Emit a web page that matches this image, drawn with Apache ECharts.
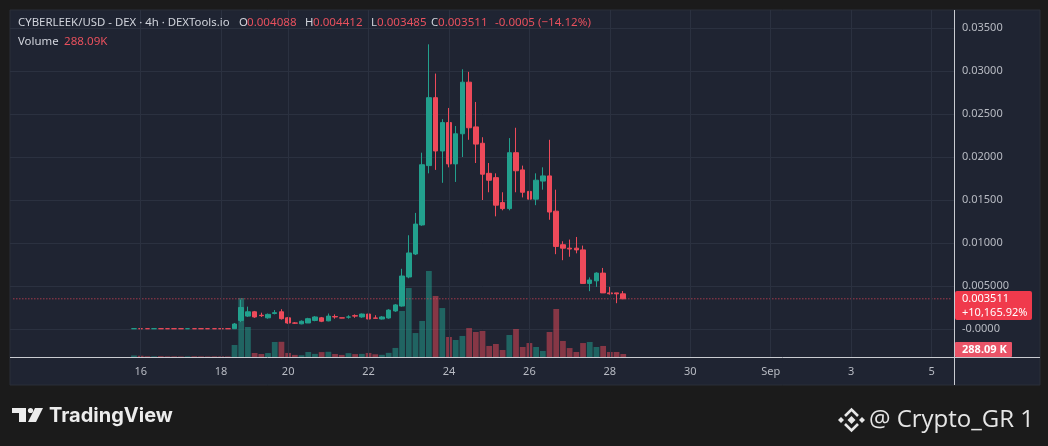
<!DOCTYPE html>
<html><head><meta charset="utf-8">
<script src="https://cdn.jsdelivr.net/npm/echarts@6/dist/echarts.min.js"></script>
<style>html,body{margin:0;padding:0;background:#1b1b1b}#c{width:1048px;height:446px}</style>
</head><body><div id="c"></div><script>
// 4h bar slots (TradingView index-based time scale; two empty slots on Aug 18 are skipped)
const categories = [
'08-12 20:00',
'08-13 00:00','08-13 04:00','08-13 08:00','08-13 12:00','08-13 16:00','08-13 20:00',
'08-14 00:00','08-14 04:00','08-14 08:00','08-14 12:00','08-14 16:00','08-14 20:00',
'08-15 00:00','08-15 04:00','08-15 08:00','08-15 12:00','08-15 16:00','08-15 20:00',
'08-16 00:00','08-16 04:00','08-16 08:00','08-16 12:00','08-16 16:00','08-16 20:00',
'08-17 00:00','08-17 04:00','08-17 08:00','08-17 12:00','08-17 16:00','08-17 20:00',
'08-18 00:00','08-18 12:00','08-18 16:00','08-18 20:00',
'08-19 00:00','08-19 04:00','08-19 08:00','08-19 12:00','08-19 16:00','08-19 20:00',
'08-20 00:00','08-20 04:00','08-20 08:00','08-20 12:00','08-20 16:00','08-20 20:00',
'08-21 00:00','08-21 04:00','08-21 08:00','08-21 12:00','08-21 16:00','08-21 20:00',
'08-22 00:00','08-22 04:00','08-22 08:00','08-22 12:00','08-22 16:00','08-22 20:00',
'08-23 00:00','08-23 04:00','08-23 08:00','08-23 12:00','08-23 16:00','08-23 20:00',
'08-24 00:00','08-24 04:00','08-24 08:00','08-24 12:00','08-24 16:00','08-24 20:00',
'08-25 00:00','08-25 04:00','08-25 08:00','08-25 12:00','08-25 16:00','08-25 20:00',
'08-26 00:00','08-26 04:00','08-26 08:00','08-26 12:00','08-26 16:00','08-26 20:00',
'08-27 00:00','08-27 04:00','08-27 08:00','08-27 12:00','08-27 16:00','08-27 20:00',
'08-28 00:00','08-28 04:00','08-28 08:00','08-28 12:00','08-28 16:00','08-28 20:00',
'08-29 00:00','08-29 04:00','08-29 08:00','08-29 12:00','08-29 16:00','08-29 20:00',
'08-30 00:00','08-30 04:00','08-30 08:00','08-30 12:00','08-30 16:00','08-30 20:00',
'08-31 00:00','08-31 04:00','08-31 08:00','08-31 12:00','08-31 16:00','08-31 20:00',
'09-01 00:00','09-01 04:00','09-01 08:00','09-01 12:00','09-01 16:00','09-01 20:00',
'09-02 00:00','09-02 04:00','09-02 08:00','09-02 12:00','09-02 16:00','09-02 20:00',
'09-03 00:00','09-03 04:00','09-03 08:00','09-03 12:00','09-03 16:00','09-03 20:00',
'09-04 00:00','09-04 04:00','09-04 08:00','09-04 12:00','09-04 16:00','09-04 20:00',
'09-05 00:00','09-05 04:00','09-05 08:00','09-05 12:00'
];
const tickLabels = {
'08-16 00:00':'16','08-18 00:00':'18','08-20 00:00':'20','08-22 00:00':'22',
'08-24 00:00':'24','08-26 00:00':'26','08-28 00:00':'28','08-30 00:00':'30',
'09-01 00:00':'Sep','09-03 00:00':'3','09-05 00:00':'5'
};
const priceTickLabels = ['-0.0000','0.005000','0.01000','0.01500','0.02000','0.02500','0.03000','0.03500'];
const firstBar = '08-15 20:00';
const opens = [
0.0000350,0.0000352,0.0000346,0.0000344,0.0000348,0.0000345,0.0000343,
0.0000341,0.0000340,0.0000344,0.0000342,0.0000341,0.0000340,0.0000339,0.0000338,
0.0000337,0.0010,0.0015,0.0020,0.0016,0.0013,0.0018,0.0020,0.0013,0.0007,
0.0006,0.0007,0.0010,0.0013,0.00095,0.00145,0.0013,0.00138,0.00155,0.0014,
0.00174,0.00128,0.00116,0.00128,0.0021,0.00267,0.00605,0.00872,0.0121,0.0190,
0.0269,0.0207,0.0240,0.0192,0.0227,0.0287,0.0235,0.0216,0.0181,0.0176,
0.0147,0.0140,0.0205,0.0185,0.0160,0.0151,0.0172,0.0178,0.0137,0.0098,
0.0094,0.0094,0.0092,0.0053,0.0056,0.0065,0.0042,0.0042,0.004088
];
const closes = [
0.0000352,0.0000346,0.0000344,0.0000348,0.0000345,0.0000343,0.0000341,
0.0000340,0.0000344,0.0000342,0.0000341,0.0000340,0.0000339,0.0000338,0.0000337,
0.00058,0.0025,0.0020,0.0014,0.00155,0.0017,0.0019,0.0012,0.0007,0.00068,
0.0009,0.0012,0.0014,0.0009,0.0015,0.0014,0.00127,0.0014,0.0015,0.00174,
0.00116,0.00125,0.0014,0.0022,0.0028,0.00616,0.00884,0.0122,0.0191,0.0269,
0.0207,0.0240,0.0192,0.0227,0.0287,0.0234,0.0215,0.0180,0.0173,0.0144,
0.0140,0.0205,0.0184,0.0159,0.0151,0.0173,0.0178,0.0136,0.0096,0.0094,
0.0093,0.0092,0.0053,0.0057,0.0065,0.0042,0.0041,0.004088,0.003511
];
const lows = [
0.0000347,0.0000343,0.0000341,0.0000341,0.0000342,0.0000340,0.0000338,
0.0000337,0.0000337,0.0000339,0.0000338,0.0000337,0.0000336,0.0000335,0.0000334,
0.00003,0.0008,0.0014,0.0013,0.0014,0.0012,0.0017,0.0011,0.0006,0.0006,
0.00055,0.0007,0.0009,0.0008,0.0009,0.0012,0.00125,0.0012,0.0013,0.0013,
0.0011,0.00122,0.0011,0.0012,0.0020,0.0026,0.0059,0.0086,0.0120,0.0181,
0.0185,0.0170,0.0188,0.0171,0.0200,0.0220,0.0193,0.0150,0.0159,0.0131,
0.0138,0.0138,0.0159,0.0153,0.0127,0.0144,0.0162,0.0127,0.0087,0.0080,
0.0084,0.0088,0.0053,0.0044,0.0049,0.0042,0.0040,0.0030,0.003485
];
const highs = [
0.0000355,0.0000355,0.0000349,0.0000351,0.0000351,0.0000348,0.0000346,
0.0000344,0.0000347,0.0000347,0.0000345,0.0000344,0.0000343,0.0000342,0.0000341,
0.0007,0.0034,0.0026,0.0021,0.0019,0.0018,0.0022,0.0023,0.0014,0.0008,
0.0010,0.0013,0.0015,0.0014,0.0018,0.0017,0.0013,0.0016,0.0017,0.0018,
0.0018,0.0016,0.0015,0.0023,0.0029,0.0070,0.0109,0.0135,0.0205,0.0331,
0.0297,0.0244,0.0257,0.0236,0.0302,0.0299,0.0264,0.0223,0.0193,0.0181,
0.0159,0.0222,0.0234,0.0190,0.0170,0.0181,0.0188,0.0220,0.0162,0.0102,
0.0104,0.0107,0.0097,0.0060,0.0066,0.0071,0.0049,0.0042,0.004412
];
// volume in thousands
const volumes = [
150,120,70,60,80,60,60,50,60,70,60,50,60,60,50,
1150,5660,2880,385,290,380,1440,1460,390,200,170,480,300,470,500,290,200,370,280,300,
390,260,210,400,870,4420,6620,2300,3460,8260,5860,4700,1920,1630,2020,2780,2400,2500,
1060,1250,670,2110,2690,960,1340,960,580,2400,4610,1540,860,480,1340,1440,960,1060,
480,480,288.09
];

const UP = '#22a08d', DOWN = '#ee4a5a';
const UPV = 'rgba(34,160,141,0.52)', DOWNV = 'rgba(238,74,90,0.5)';
const start = categories.indexOf(firstBar);
const candleData = categories.map(() => '-');
const volData = categories.map(() => '-');
opens.forEach((o, k) => {
  const i = start + k;
  candleData[i] = [o, closes[k], lows[k], highs[k]];
  volData[i] = { value: volumes[k], itemStyle: { color: closes[k] >= o ? UPV : DOWNV } };
});
const lastIdx = closes.length - 1;
const lastClose = closes[lastIdx];
const FONT = '"Noto Sans", "Open Sans", sans-serif';
const TXT = '#b8bbc3';
const GRIDC = '#2b3140';
const HF = '11.4px ' + FONT;
const VF = '11.6px ' + FONT;
const HC = '#d1d4dc', RC = '#e8505d';
const txt = (x, y, text, fill, font) => ({ type: 'text', z: 61, silent: true,
  style: { x, y, text, fill, font, textVerticalAlign: 'middle' } });

const chart = echarts.init(document.getElementById('c'), null, { renderer: 'canvas' });
chart.setOption({
  animation: false,
  backgroundColor: '#1b1b1b',
  textStyle: { fontFamily: FONT },
  grid: [
    { left: 10, right: 93, top: 10, bottom: 89 },
    { left: 10, right: 93, top: 28, bottom: 117 }
  ],
  xAxis: [
    { type: 'category', gridIndex: 0, data: categories, boundaryGap: true,
      axisLine: { show: false }, axisTick: { show: false }, splitLine: { show: false },
      axisLabel: { color: TXT, fontSize: 11, margin: 9, fontFamily: FONT,
        interval: (idx, v) => !!tickLabels[v], formatter: v => tickLabels[v] || '' } },
    { type: 'category', gridIndex: 1, data: categories, boundaryGap: true, show: false }
  ],
  yAxis: [
    { type: 'value', gridIndex: 0, min: 0, max: 33312, show: false, splitLine: { show: false } },
    { type: 'value', gridIndex: 1, position: 'right', min: 0, max: 0.035, interval: 0.005,
      axisLine: { show: false }, axisTick: { show: false },
      splitLine: { lineStyle: { color: GRIDC, width: 1 } },
      axisLabel: { color: TXT, fontSize: 11, margin: 7, fontFamily: FONT,
        formatter: v => priceTickLabels[Math.round(v / 0.005)] } }
  ],
  series: [
    { type: 'line', xAxisIndex: 0, yAxisIndex: 0, data: categories.map(() => '-'), z: 0, silent: true,
      markLine: { symbol: ['none', 'none'], silent: true, label: { show: false },
        lineStyle: { color: GRIDC, type: 'solid', width: 1 },
        data: Object.keys(tickLabels).map(c => ({ xAxis: c })) } },
    { type: 'bar', name: 'Volume', xAxisIndex: 0, yAxisIndex: 0, data: volData, barWidth: '86%', z: 2 },
    { type: 'line', name: 'Last price', xAxisIndex: 1, yAxisIndex: 1, z: 2, silent: true,
      data: categories.map(() => lastClose), symbol: 'none',
      lineStyle: { color: '#e8475a', type: [1, 2], width: 1 } },
    { type: 'candlestick', name: 'CYBERLEEK/USD', xAxisIndex: 1, yAxisIndex: 1, data: candleData,
      barWidth: 5, z: 3, clip: false,
      itemStyle: { color: UP, color0: DOWN, borderColor: UP, borderColor0: DOWN, borderWidth: 1 } }
  ],
  graphic: [
    { type: 'rect', z: -10, silent: true, shape: { x: 10, y: 10, width: 1030, height: 375 },
      style: { fill: '#1f2432', stroke: '#2a2e39', lineWidth: 1 } },
    { type: 'line', z: 50, silent: true, shape: { x1: 10, y1: 357.5, x2: 1040, y2: 357.5 },
      style: { stroke: '#c9cbd1', lineWidth: 1 } },
    { type: 'line', z: 50, silent: true, shape: { x1: 954.5, y1: 10, x2: 954.5, y2: 385 },
      style: { stroke: '#c9cbd1', lineWidth: 1 } },
    { type: 'rect', z: 60, silent: true, shape: { x: 955, y: 291, width: 77, height: 29, r: 2 },
      style: { fill: '#f03a4c' } },
    txt(962, 299, lastClose.toFixed(6), '#ffffff', '11px ' + FONT),
    txt(962, 313, '+10,165.92%', '#ffffff', '11px ' + FONT),
    { type: 'rect', z: 60, silent: true, shape: { x: 955, y: 342, width: 57, height: 15, r: 1 },
      style: { fill: '#ea5468' } },
    txt(962, 350, '288.09 K', '#ffffff', 'bold 11px ' + FONT),
    // legend header
    txt(18, 23, 'CYBERLEEK/USD - DEX · 4h · DEXTools.io', HC, HF),
    txt(239, 23, 'O', HC, HF),
    txt(247, 23, opens[lastIdx].toFixed(6), RC, VF),
    txt(305, 23, 'H', HC, HF),
    txt(313, 23, highs[lastIdx].toFixed(6), RC, VF),
    txt(371, 23, 'L', HC, HF),
    txt(377, 23, lows[lastIdx].toFixed(6), RC, VF),
    txt(431, 23, 'C', HC, HF),
    txt(438, 23, lastClose.toFixed(6), RC, VF),
    txt(495, 23, '-0.0005', RC, VF),
    txt(538, 23, '(−14.12%)', RC, VF),
    txt(18, 42, 'Volume', HC, HF),
    txt(64, 42, '288.09K', RC, VF),
    // TradingView logo
    { type: 'rect', silent: true, shape: { x: 12, y: 408, width: 14, height: 5 }, style: { fill: '#ececec' } },
    { type: 'rect', silent: true, shape: { x: 19, y: 408, width: 7, height: 14 }, style: { fill: '#ececec' } },
    { type: 'circle', silent: true, shape: { cx: 30.5, cy: 410.5, r: 2.6 }, style: { fill: '#ececec' } },
    { type: 'polygon', silent: true, shape: { points: [[35, 408], [43, 408], [36, 422], [28, 422]] }, style: { fill: '#ececec' } },
    { type: 'text', silent: true, style: { x: 49, y: 416, text: 'TradingView', fill: '#ececec',
      font: 'bold 20px "Inter", ' + FONT, textVerticalAlign: 'middle' } },
    // Binance-style icon + handle
    { type: 'polygon', silent: true, shape: { points: [[838, 420], [841, 417], [844, 420], [841, 423]] }, style: { fill: '#e6e6e6' } },
    { type: 'polygon', silent: true, shape: { points: [[859, 420], [862, 417], [865, 420], [862, 423]] }, style: { fill: '#e6e6e6' } },
    { type: 'polygon', silent: true, shape: { points: [[847.5, 420], [851.5, 416], [855.5, 420], [851.5, 424]] }, style: { fill: '#e6e6e6' } },
    { type: 'polyline', silent: true, shape: { points: [[845, 416], [851.5, 409.5], [858, 416]] }, style: { stroke: '#e6e6e6', lineWidth: 2.6, fill: null } },
    { type: 'polyline', silent: true, shape: { points: [[845, 424], [851.5, 430.5], [858, 424]] }, style: { stroke: '#e6e6e6', lineWidth: 2.6, fill: null } },
    { type: 'text', silent: true, style: { x: 1034, y: 420, text: '@ Crypto_GR 1', fill: '#e6e6e6',
      font: '24px "Open Sans", ' + FONT, textAlign: 'right', textVerticalAlign: 'middle' } }
  ]
});
</script></body></html>
